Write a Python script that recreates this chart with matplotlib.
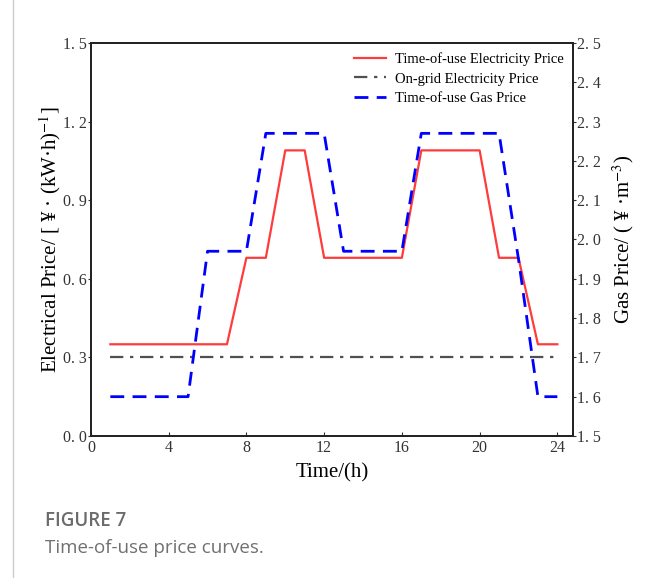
import matplotlib.pyplot as plt
from matplotlib.ticker import FuncFormatter, MultipleLocator

# hourly prices
hours = list(range(1, 25))
elec_price = [0.35, 0.35, 0.35, 0.35, 0.35, 0.35, 0.35, 0.68, 0.68, 1.09, 1.09, 0.68,
              0.68, 0.68, 0.68, 0.68, 1.09, 1.09, 1.09, 1.09, 0.68, 0.68, 0.35, 0.35]
grid_price = [0.30] * 24
gas_price = [1.60, 1.60, 1.60, 1.60, 1.60, 1.97, 1.97, 1.97, 2.27, 2.27, 2.27, 2.27,
             1.97, 1.97, 1.97, 1.97, 2.27, 2.27, 2.27, 2.27, 2.27, 1.95, 1.60, 1.60]

plt.rcParams['font.family'] = ['Liberation Serif', 'DejaVu Serif']
plt.rcParams['mathtext.fontset'] = 'stix'

fig = plt.figure(figsize=(6.54, 5.78), dpi=100)
ax = fig.add_axes([0.139, 0.2457, 0.737, 0.68])
ax2 = ax.twinx()

l1, = ax.plot(hours, elec_price, color='#FF3B3B', lw=1.6, label='Time-of-use Electricity Price')
l2, = ax.plot(hours, grid_price, color='#505050', lw=1.6, dashes=(6, 3, 1.5, 3),
              label='On-grid Electricity Price')
l3, = ax2.plot(hours, gas_price, color='#0000FF', lw=2.0, dashes=(5, 3),
               label='Time-of-use Gas Price')

ax.set_xlim(0, 24.8)
ax.set_ylim(0, 1.5)
ax2.set_ylim(1.5, 2.5)
ax.xaxis.set_major_locator(MultipleLocator(4))
ax.yaxis.set_major_locator(MultipleLocator(0.3))
ax2.yaxis.set_major_locator(MultipleLocator(0.1))

fmt = FuncFormatter(lambda v, p: f'{v:.1f}'.replace('.', '. '))
ax.yaxis.set_major_formatter(fmt)
ax2.yaxis.set_major_formatter(fmt)

ax.tick_params(axis='x', direction='in', length=3, labelsize=11.5, pad=3, colors='#333333')
ax.tick_params(axis='y', direction='out', length=2, labelsize=11.5, pad=1, colors='#333333')
ax2.tick_params(axis='y', direction='out', length=2, labelsize=11.5, pad=1, colors='#333333')
for a in (ax, ax2):
    for s in a.spines.values():
        s.set_linewidth(1.3)
        s.set_color('#222222')

ax.set_xlabel('Time/(h)', fontsize=15, labelpad=5)
ax.set_ylabel(r'Electrical Price/ [ ¥ · (kW·h)$^{-1}$]', fontsize=15, labelpad=0)
ax2.set_ylabel(r'Gas Price/ ( ¥ ·m$^{-3}$)', fontsize=15, labelpad=7)

ax.legend(handles=[l1, l2, l3], loc='upper right', frameon=False, fontsize=10.5,
          handlelength=2.2, handletextpad=0.6, labelspacing=0.42, borderaxespad=0.25)

# caption block
fig.add_artist(plt.Line2D([0.02, 0.02], [0, 1], color='#cccccc', lw=1))
fig.text(0.069, 0.082, 'FIGURE 7', fontsize=13.5, color='#6b6b6b', family='Open Sans',
         weight='semibold', va='bottom')
fig.text(0.069, 0.036, 'Time-of-use price curves.', fontsize=13.5, color='#707070',
         family='Open Sans', va='bottom')

fig.savefig('out.png', dpi=100)
